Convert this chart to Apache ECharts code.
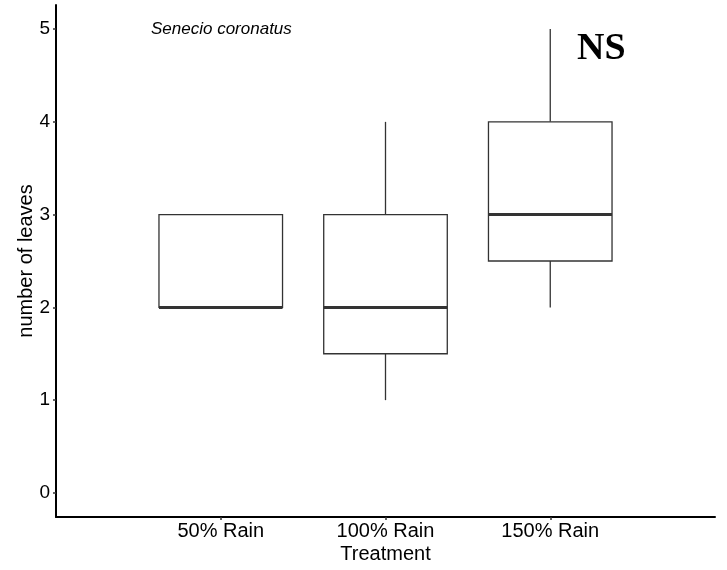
<!DOCTYPE html>
<html>
<head>
<meta charset="utf-8">
<script src="https://cdn.jsdelivr.net/npm/echarts@6/dist/echarts.min.js"></script>
<style>
  html, body { margin: 0; padding: 0; background: #fff; }
  #chart { width: 727px; height: 570px; }
</style>
</head>
<body>
<div id="chart"></div>
<script>
// Treatment groups (padded with empty slots so the axis runs 0..4)
const categories = ['', '50% Rain', '100% Rain', '150% Rain', ''];
// Five-number summaries per treatment: [min, Q1, median, Q3, max]
const groupNames = ['50% Rain', '100% Rain', '150% Rain'];
const lowerWhisker = [2, 1, 2];
const q1 = [2, 1.5, 2.5];
const median = [2, 2, 3];
const q3 = [3, 3, 4];
const upperWhisker = [3, 4, 5];
const yTicks = [0, 1, 2, 3, 4, 5];

const boxData = groupNames.map((name, i) => [
  categories.indexOf(name), lowerWhisker[i], q1[i], median[i], q3[i], upperWhisker[i]
]);

const chart = echarts.init(document.getElementById('chart'));
const stroke = '#333333';
const sans = 'Liberation Sans, Arial, sans-serif';

chart.setOption({
  animation: false,
  grid: { left: 56, right: 12, top: 5, bottom: 53 },
  xAxis: {
    type: 'category',
    data: categories,
    boundaryGap: false,
    name: 'Treatment',
    nameLocation: 'middle',
    nameGap: 27,
    nameMoveOverlap: false,
    nameTextStyle: { color: '#000', fontSize: 20, fontFamily: sans },
    axisLine: { onZero: false, lineStyle: { color: '#000', width: 2 } },
    axisTick: {
      show: true, length: 3, lineStyle: { color: '#333', width: 1.5 },
      interval: (idx, val) => val !== ''
    },
    axisLabel: {
      color: '#000', fontSize: 20, margin: 4,
      fontFamily: sans,
      interval: 0
    },
    splitLine: { show: false }
  },
  yAxis: {
    type: 'value',
    min: -0.26,
    max: 5.26,
    name: 'number of leaves',
    nameLocation: 'middle',
    nameGap: 20,
    nameMoveOverlap: false,
    nameTextStyle: { color: '#000', fontSize: 20, fontFamily: sans },
    axisLine: { show: true, onZero: false, lineStyle: { color: '#000', width: 2 } },
    axisTick: {
      show: true, length: 3, lineStyle: { color: '#333', width: 1.5 },
      customValues: yTicks
    },
    axisLabel: {
      color: '#000', fontSize: 19, margin: 6,
      fontFamily: sans,
      customValues: yTicks
    },
    splitLine: { show: false }
  },
  series: [{
    type: 'custom',
    data: boxData,
    encode: { x: 0, y: [1, 2, 3, 4, 5] },
    renderItem: function (params, api) {
      const idx = api.value(0);
      const band = api.size([1, 0])[0];
      const half = band * 0.75 / 2;
      const pLow = api.coord([idx, api.value(1)]);
      const pQ1 = api.coord([idx, api.value(2)]);
      const pMed = api.coord([idx, api.value(3)]);
      const pQ3 = api.coord([idx, api.value(4)]);
      const pHigh = api.coord([idx, api.value(5)]);
      const cx = pMed[0];
      const lineStyle = { stroke: stroke, lineWidth: 1.3, fill: null };
      return {
        type: 'group',
        children: [
          { type: 'line', shape: { x1: cx, y1: pQ3[1], x2: cx, y2: pHigh[1] }, style: lineStyle },
          { type: 'line', shape: { x1: cx, y1: pQ1[1], x2: cx, y2: pLow[1] }, style: lineStyle },
          {
            type: 'rect',
            shape: { x: cx - half, y: pQ3[1], width: half * 2, height: pQ1[1] - pQ3[1] },
            style: { stroke: stroke, lineWidth: 1.3, fill: '#fff' }
          },
          {
            type: 'line',
            shape: { x1: cx - half, y1: pMed[1], x2: cx + half, y2: pMed[1] },
            style: { stroke: stroke, lineWidth: 3 }
          }
        ]
      };
    }
  }],
  graphic: [
    {
      type: 'text', left: 151, top: 21,
      style: {
        text: 'Senecio coronatus', fill: '#000',
        font: 'italic 17px "Liberation Sans", Arial, sans-serif'
      }
    },
    {
      type: 'text', left: 577, top: 30,
      style: {
        text: 'NS', fill: '#000',
        font: 'bold 38px "Liberation Serif", "Times New Roman", serif'
      }
    }
  ]
});
</script>
</body>
</html>
